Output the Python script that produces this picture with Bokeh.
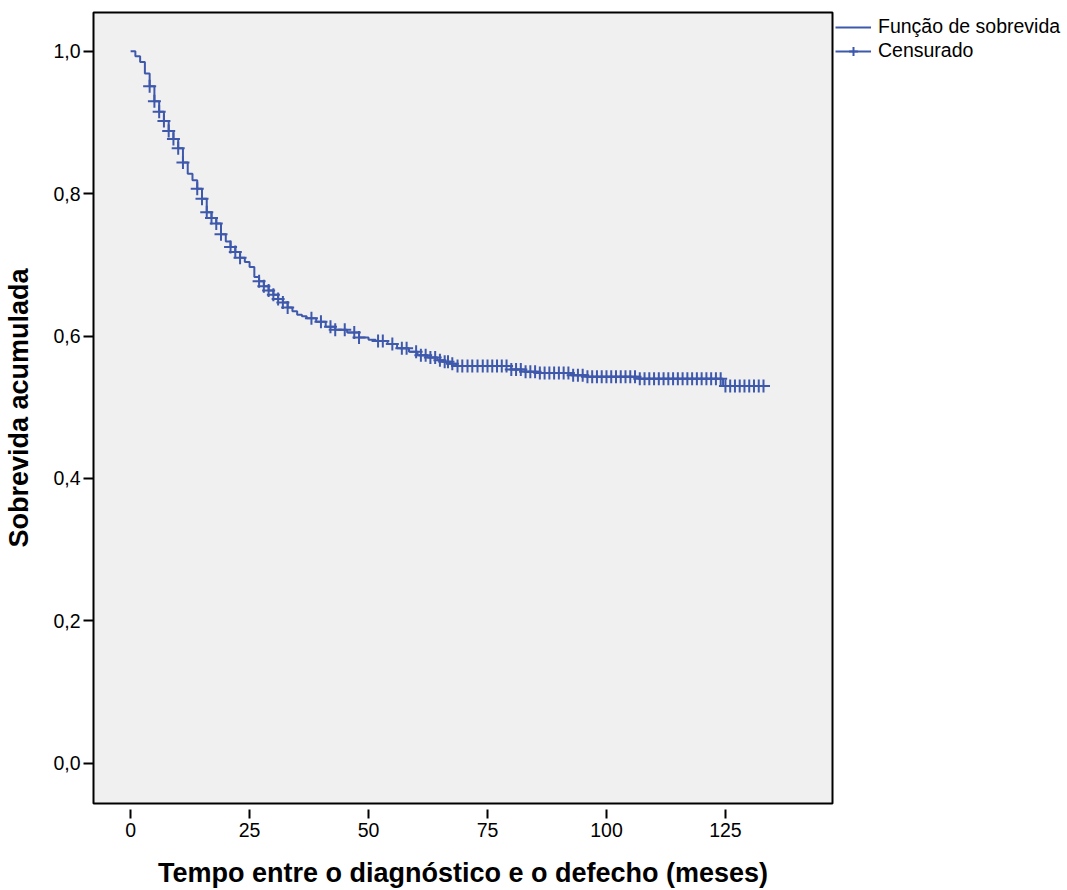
import numpy as np
from bokeh.plotting import figure
from bokeh.layouts import row
from bokeh.models import Range1d, FixedTicker, CustomJSTickFormatter, Legend, LegendItem
from bokeh.embed import file_html
from bokeh.resources import INLINE

# Kaplan-Meier estimate (event times in months, survival after each event)
event_times = [0, 1, 2, 3, 4, 5, 6, 7, 8, 9, 10, 11, 12, 13, 14, 15, 16, 17, 18, 19,
               20, 21, 22, 23, 24, 25, 26, 27, 28, 29, 30, 31, 32, 33, 34, 35, 36, 37,
               39, 41, 43, 45.5, 48, 50, 51.5, 54, 56, 58.5, 60.3, 62.4, 64.5, 66, 67,
               68.5, 80, 83, 86, 92.5, 96, 107, 124.5]
survival = [1.000, 0.993, 0.985, 0.969, 0.951, 0.930, 0.915, 0.902, 0.888, 0.877,
            0.864, 0.844, 0.828, 0.819, 0.807, 0.793, 0.774, 0.766, 0.758, 0.743,
            0.733, 0.725, 0.718, 0.710, 0.704, 0.697, 0.683, 0.677, 0.670, 0.664,
            0.658, 0.652, 0.647, 0.640, 0.635, 0.630, 0.628, 0.625,
            0.620, 0.613, 0.609, 0.605, 0.598, 0.595, 0.593, 0.589, 0.583, 0.578,
            0.573, 0.570, 0.566, 0.564, 0.561,
            0.558, 0.553, 0.550, 0.548, 0.545, 0.543, 0.540, 0.530]
end_time = 134

censor_times = [4, 5, 6, 7, 8, 9, 10, 11, 14, 15, 16, 17, 18, 19, 21, 22, 23, 27, 28, 29,
                30, 31, 32, 33, 38, 40, 42, 43, 45, 47, 48, 52, 53, 55, 57, 58, 60, 61,
                62, 63, 64, 65, 66, 66.7, 67.6, 68.7, 69.7, 70.8, 71.8, 72.9, 74, 75, 76,
                77, 78, 79, 80, 81, 82, 83, 84, 85, 86, 87, 88, 89, 90, 91, 92, 93, 94,
                95, 96, 97, 98, 99, 100, 101, 102, 103, 104, 105, 106, 107, 108, 109,
                110, 111, 112, 113, 114, 115, 116, 117, 118, 119, 120, 121, 122, 123,
                124, 125, 126, 127, 128, 129, 130, 131, 132, 133]

x_ticks = [0, 25, 50, 75, 100, 125]
y_ticks = [0.0, 0.2, 0.4, 0.6, 0.8, 1.0]

x_title = "Tempo entre o diagnóstico e o defecho (meses)"
y_title = "Sobrevida acumulada"
label_surv = "Função de sobrevida"
label_cens = "Censurado"

step_x = list(event_times) + [end_time]
step_y = list(survival) + [survival[-1]]
idx = np.searchsorted(np.array(event_times), np.array(censor_times), side="right") - 1
censor_y = np.array(survival)[idx]

COLOR = "#3E58AC"
FONT = "Liberation Sans"

p = figure(width=835, height=890, output_backend="svg", toolbar_location=None,
           x_range=Range1d(-7.8, 147.5), y_range=Range1d(-0.0567, 1.0546),
           min_border_left=93, min_border_right=3, min_border_top=12,
           min_border_bottom=85)

p.background_fill_color = "#F0F0F0"
p.border_fill_color = "white"
p.outline_line_color = "black"
p.outline_line_width = 2
p.xgrid.visible = False
p.ygrid.visible = False

p.step(step_x, step_y, mode="after", line_color=COLOR, line_width=2)
p.scatter(censor_times, censor_y, marker="cross", size=13,
          line_color=COLOR, line_width=2)

for ax in (p.xaxis[0], p.yaxis[0]):
    ax.axis_line_color = None
    ax.minor_tick_line_color = None
    ax.major_tick_line_color = "black"
    ax.major_tick_line_width = 2
    ax.major_label_text_font = FONT
    ax.major_label_text_font_size = "19.5px"
    ax.major_label_text_color = "black"
    ax.axis_label_text_font = FONT
    ax.axis_label_text_font_style = "bold"
    ax.axis_label_text_font_size = "27px"
    ax.axis_label_text_color = "black"

p.xaxis.ticker = FixedTicker(ticks=x_ticks)
p.xaxis.axis_label = x_title
p.xaxis.major_tick_in = -6
p.xaxis.major_tick_out = 15
p.xaxis.major_label_standoff = 4
p.xaxis.axis_label_standoff = 18

p.yaxis.ticker = FixedTicker(ticks=y_ticks)
p.yaxis.formatter = CustomJSTickFormatter(code="return tick.toFixed(1).replace('.', ',');")
p.yaxis.axis_label = y_title
p.yaxis.major_tick_in = 0
p.yaxis.major_tick_out = 10
p.yaxis.major_label_standoff = 3
p.yaxis.axis_label_standoff = 16

# legend panel to the right of the plot (proxy renderers lie outside its ranges)
lg = figure(width=232, height=890, output_backend="svg", toolbar_location=None,
            x_range=Range1d(1000, 1001), y_range=Range1d(1000, 1001),
            min_border_left=0, min_border_right=0, min_border_top=12,
            min_border_bottom=85,
            x_axis_location=None, y_axis_location=None)
lg.xgrid.visible = False
lg.ygrid.visible = False
lg.outline_line_color = None
lg.background_fill_color = "white"
lg.border_fill_color = "white"
lr_step = lg.step(step_x[:3], step_y[:3], mode="after", line_color=COLOR, line_width=2)
lr_line = lg.line(censor_times[:2], list(censor_y[:2]), line_color=COLOR, line_width=2)
lr_cross = lg.scatter(censor_times[:2], list(censor_y[:2]), marker="cross", size=20,
                      line_color=COLOR, line_width=2)

legend = Legend(items=[LegendItem(label=label_surv, renderers=[lr_step]),
                       LegendItem(label=label_cens, renderers=[lr_line, lr_cross])],
                location=(0, 741), margin=0, padding=3, spacing=1,
                glyph_width=36, glyph_height=22, label_standoff=7,
                label_text_font=FONT, label_text_font_size="19.5px",
                label_text_color="black",
                border_line_color=None, background_fill_alpha=0)
lg.add_layout(legend)

layout = row(p, lg, spacing=0)
open("out.html", "w").write(file_html(layout, INLINE))
